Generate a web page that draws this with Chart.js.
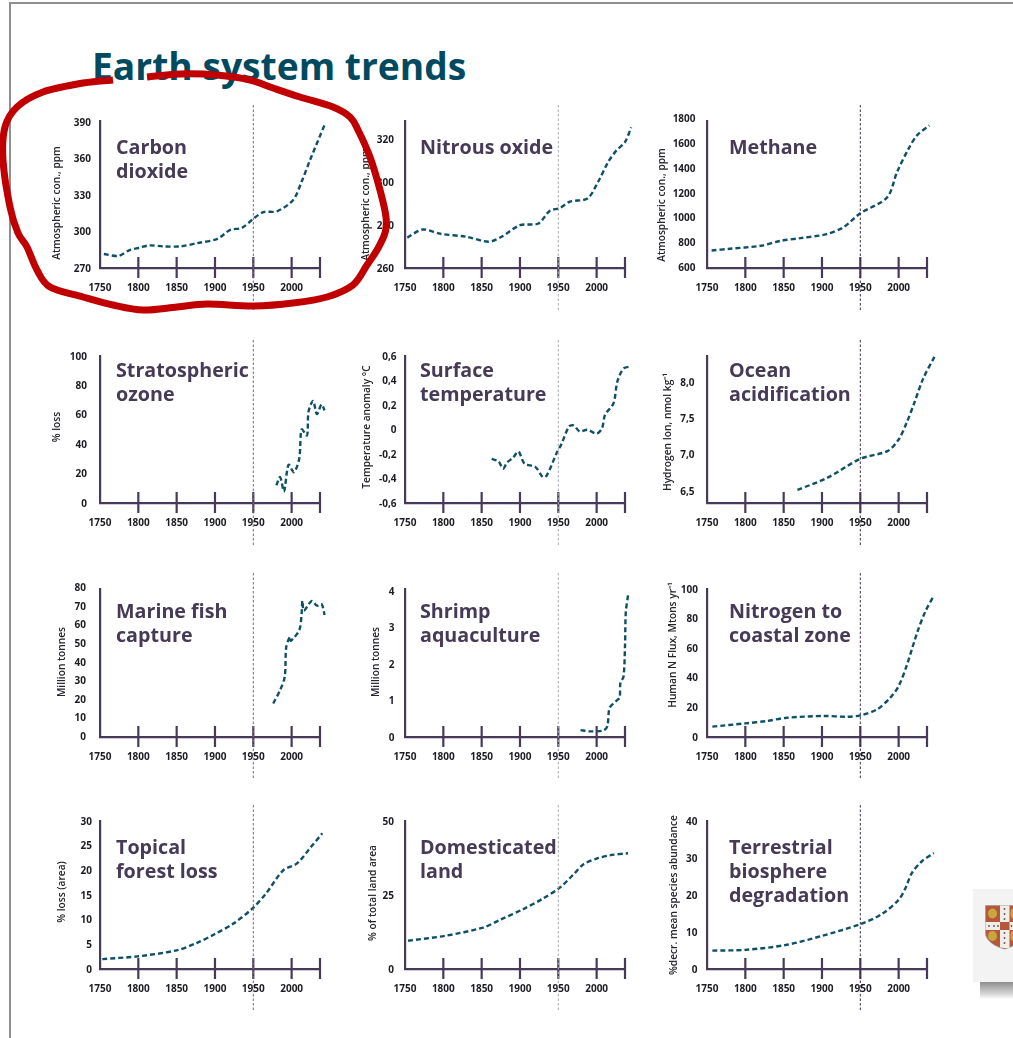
<!DOCTYPE html>
<html>
<head>
<meta charset="utf-8">
<title>Earth system trends</title>
<script src="https://cdn.jsdelivr.net/npm/chart.js@4"></script>
<style>
html,body{margin:0;padding:0;background:#fff;width:1013px;height:1038px;overflow:hidden;position:relative;font-family:"Open Sans",sans-serif}
#frame{position:absolute;left:9px;top:2px;width:1010px;height:1050px;border-left:2px solid #8f8f8f;border-top:2px solid #8f8f8f;box-sizing:border-box}
h1{position:absolute;left:92px;top:41px;margin:0;font:700 37.2px/50px "Open Sans",sans-serif;color:#004a5f;white-space:nowrap}
canvas{position:absolute}
#logo{position:absolute;left:973px;top:889px;width:40px;height:93px;background:#f3f3f3}
#logoShadow{position:absolute;left:980px;top:982px;width:33px;height:17px;background:linear-gradient(#8e8e8e,#dcdcdc 75%,#fff)}
#crest{position:absolute;left:985px;top:905px}
#ink{position:absolute;left:0;top:0;pointer-events:none}
</style>
</head>
<body>
<div id="frame"></div>
<h1>Earth system trends</h1>
<div id="panels"></div>
<div id="logo"></div><div id="logoShadow"></div>
<svg id="crest" width="28" height="45" viewBox="0 0 28 45">
  <path d="M0.5 0.5H39V28C39 36 28 42 19.5 44C11 42 0.5 36 0.5 28Z" fill="#b5573c" stroke="#9a9a9a" stroke-width="0.7"/>
  <path d="M15 0.5H24.5V43H19.5L15 42.5Z" fill="#f1eeea"/>
  <rect x="0.5" y="17" width="27.5" height="8" fill="#f1eeea"/>
  <rect x="15" y="17" width="9.5" height="8" fill="#b5573c"/>
  <g fill="#c9a63c"><ellipse cx="7.5" cy="8.5" rx="4.5" ry="5"/><ellipse cx="7.5" cy="31" rx="4.5" ry="5"/><ellipse cx="28" cy="8.5" rx="2.5" ry="5"/><ellipse cx="28" cy="31" rx="2.5" ry="5"/></g>
  <g fill="#555"><circle cx="19.5" cy="4" r=".9"/><circle cx="19.5" cy="9" r=".9"/><circle cx="19.5" cy="14" r=".9"/><circle cx="19.5" cy="28" r=".9"/><circle cx="19.5" cy="33" r=".9"/><circle cx="19.5" cy="38" r=".9"/><circle cx="4" cy="21" r=".9"/><circle cx="9" cy="21" r=".9"/><circle cx="13" cy="21" r=".9"/><circle cx="26.5" cy="21" r=".9"/></g>
</svg>
<svg id="ink" width="1013" height="1038"><path id="inkPath" fill="none" stroke="#c00000" stroke-width="7" stroke-linecap="butt" stroke-linejoin="round"/></svg>

<script>
// ---- shared axis values ----
const xTickValues = [1750, 1800, 1850, 1900, 1950, 2000, 2037];
const xUnlabelledTick = 2037;
const markerYear = 1950;

// ---- series ----
const co2Years = [1755,1774,1788,1803,1814,1833,1855,1877,1903,1920,1935,1950,1963,1981,2002,2013,2024,2044];
const co2Values = [281.5,280,284.5,287,288.6,287.8,287.8,290.5,294,301.4,303,310.5,316,316.7,326,341,358.8,389.4];
const n2oYears = [1753,1773,1796,1830,1859,1876,1900,1924,1939,1952,1965,1988,2002,2015,2026,2037,2045];
const n2oValues = [274.2,278,276,274.6,272.3,274.6,280,280.8,286.8,288,291,292.5,300.3,309.5,315,318.8,325.7];
const ch4Years = [1756,1780,1820,1846,1872,1906,1928,1950,1985,1998,2013,2024,2040];
const ch4Values = [734,748,772,812,834,866,922,1035,1164,1370,1558,1666,1746];
const ozoneYears = [1980,1985,1990,1996,2003,2010,2013,2020,2022,2028,2033,2039,2043];
const ozoneValues = [12,17.6,7.9,26,21,30.5,50,46,62,69.5,60.5,67,63];
const tempYears = [1863,1872,1878,1883,1891,1898,1906,1920,1930,1935,1948,1954,1964,1970,1978,1988,2000,2007,2011,2022,2027,2035,2045];
const tempValues = [-0.24,-0.26,-0.32,-0.27,-0.23,-0.18,-0.28,-0.305,-0.39,-0.375,-0.19,-0.12,0.025,0.033,-0.016,-0.002,-0.034,0.01,0.12,0.214,0.39,0.497,0.516];
const oceanYears = [1868,1906,1950,1986,2000,2011,2020,2032,2047];
const oceanValues = [6.52,6.68,6.945,7.055,7.21,7.455,7.7,8.045,8.35];
const fishYears = [1976,1985,1991,1993,1998,1999,2010,2013,2014,2016,2026,2033,2039,2043];
const fishValues = [17.6,24.8,32,48.2,53.6,51.4,57.2,66,73,67.6,72.8,70.3,71.2,65.3];
const shrimpYears = [1979,1991,2009,2014,2017,2026,2030,2031,2035,2037,2038,2041];
const shrimpValues = [0.19,0.155,0.18,0.3,0.8,1.0,1.08,1.49,1.65,2.49,3.41,3.89];
const nitrogenYears = [1757,1800,1828,1854,1902,1933,1952,1972,1989,2000,2011,2024,2035,2046];
const nitrogenValues = [7,9.2,10.8,13,14.2,13.7,14.8,18.7,26.5,34.4,49,70.3,85,95.5];
const forestYears = [1753,1799,1850,1876,1900,1924,1949,1967,1989,2007,2024,2040];
const forestValues = [2,2.56,3.78,5.26,7.1,9.2,12.3,15.4,20,21.4,24.5,27.5];
const landYears = [1754,1802,1852,1874,1904,1930,1952,1970,1983,2000,2017,2041];
const landValues = [9.55,11.2,14,16.6,20.2,23.8,27.5,32,35.4,37.3,38.4,39.1];
const biosphereYears = [1757,1800,1852,1900,1950,1978,2000,2009,2017,2030,2046];
const biosphereValues = [5,5.2,6.5,9,12.2,14.9,18.8,22,26,29.2,31.5];

// ---- y tick values and labels ----
const co2Ticks = [270,300,330,360,390];
const co2TickLabels = ['270','300','330','360','390'];
const n2oTicks = [260,280,300,320];
const n2oTickLabels = ['260','280','300','320'];
const ch4Ticks = [600,800,1000,1200,1400,1600,1800];
const ch4TickLabels = ['600','800','1000','1200','1400','1600','1800'];
const ozoneTicks = [0,20,40,60,80,100];
const ozoneTickLabels = ['0','20','40','60','80','100'];
const tempTicks = [-0.6,-0.4,-0.2,0,0.2,0.4,0.6];
const tempTickLabels = ['-0,6','-0,4','-0,2','0','0,2','0,4','0,6'];
const oceanTicks = [6.5,7,7.5,8];
const oceanTickLabels = ['6,5','7,0','7,5','8,0'];
const fishTicks = [0,10,20,30,40,50,60,70,80];
const fishTickLabels = ['0','10','20','30','40','50','60','70','80'];
const shrimpTicks = [0,1,2,3,4];
const shrimpTickLabels = ['0','1','2','3','4'];
const nitrogenTicks = [0,20,40,60,80,100];
const nitrogenTickLabels = ['0','20','40','60','80','100'];
const forestTicks = [0,5,10,15,20,25,30];
const forestTickLabels = ['0','5','10','15','20','25','30'];
const landTicks = [0,25,50];
const landTickLabels = ['0','25','50'];
const biosphereTicks = [0,10,20,30,40];
const biosphereTickLabels = ['0','10','20','30','40'];

// ---- layout (page pixels) ----
const colAxisX = [100, 405, 707];
const colTitleX = [116, 420, 729];
const colMarkerColor = ['#6f6a7c', '#a9a9ad', '#3d2c52'];
const rows = [
  {top:121, bottom:268, baseline:154, dashTop:105, dashBottom:312},
  {top:356, bottom:503, baseline:377, dashTop:340, dashBottom:545},
  {top:589, bottom:737, baseline:618, dashTop:573, dashBottom:780},
  {top:821, bottom:969, baseline:854, dashTop:805, dashBottom:1012}
];
const plotWidth = 220, yAxisWidth = 60, padTop = 25, xAxisHeight = 50, padRight = 30;
const axisColor = '#47395a', lineColor = '#0f5066', tickTextColor = '#1c1c22', titleColor = '#463a56';

const panels = [
  {c:0,r:0,title:['Carbon','dioxide'],yTitle:'Atmospheric con., ppm',years:co2Years,values:co2Values,ticks:co2Ticks,labels:co2TickLabels,min:270,max:391,gap:9,tx:57,ty:203},
  {c:1,r:0,title:['Nitrous oxide'],yTitle:'Atmospheric con., ppm',years:n2oYears,values:n2oValues,ticks:n2oTicks,labels:n2oTickLabels,min:260,max:328.7,gap:11,tx:366,ty:204},
  {c:2,r:0,title:['Methane'],yTitle:'Atmospheric con., ppm',years:ch4Years,values:ch4Values,ticks:ch4Ticks,labels:ch4TickLabels,min:592,max:1782,gap:11.5,tx:662,ty:205},
  {c:0,r:1,title:['Stratospheric','ozone'],yTitle:'% loss',years:ozoneYears,values:ozoneValues,ticks:ozoneTicks,labels:ozoneTickLabels,min:0,max:100,gap:13,tx:57,ty:427},
  {c:1,r:1,title:['Surface','temperature'],yTitle:'Temperature anomaly °C',years:tempYears,values:tempValues,ticks:tempTicks,labels:tempTickLabels,min:-0.6,max:0.6,gap:8.5,tx:367,ty:427},
  {c:2,r:1,title:['Ocean','acidification'],yTitle:'Hydrogen Ion, nmol kg⁻¹',years:oceanYears,values:oceanValues,ticks:oceanTicks,labels:oceanTickLabels,min:6.34,max:8.355,gap:12.5,tx:668,ty:432},
  {c:0,r:2,title:['Marine fish','capture'],yTitle:'Million tonnes',years:fishYears,values:fishValues,ticks:fishTicks,labels:fishTickLabels,min:-0.5,max:79.3,gap:14,tx:62,ty:662},
  {c:1,r:2,title:['Shrimp','aquaculture'],yTitle:'Million tonnes',years:shrimpYears,values:shrimpValues,ticks:shrimpTicks,labels:shrimpTickLabels,min:0,max:4.06,gap:10.5,tx:376,ty:662},
  {c:2,r:2,title:['Nitrogen to','coastal zone'],yTitle:'Human N Flux, Mtons yr⁻¹',years:nitrogenYears,values:nitrogenValues,ticks:nitrogenTicks,labels:nitrogenTickLabels,min:0,max:100,gap:9,tx:673,ty:645},
  {c:0,r:3,title:['Topical','forest loss'],yTitle:'% loss (area)',years:forestYears,values:forestValues,ticks:forestTicks,labels:forestTickLabels,min:0,max:30,gap:8,tx:62,ty:892},
  {c:1,r:3,title:['Domesticated','land'],yTitle:'% of total land area',years:landYears,values:landValues,ticks:landTicks,labels:landTickLabels,min:0,max:50,gap:11,tx:373,ty:893},
  {c:2,r:3,title:['Terrestrial','biosphere','degradation'],yTitle:'%decr. mean species abundance',years:biosphereYears,values:biosphereValues,ticks:biosphereTicks,labels:biosphereTickLabels,min:0,max:40.2,gap:9.5,tx:674,ty:895}
];

// Tick marks crossing the x axis, the 1950 marker, the panel heading and the y axis label.
const panelDecor = {
  id:'panelDecor',
  afterDraw(chart, args, o){
    const {ctx, chartArea:a, scales:{x}} = chart;
    ctx.save();
    ctx.strokeStyle = axisColor; ctx.lineWidth = 2.2;
    xTickValues.slice(1).forEach(v=>{
      const px = x.getPixelForValue(v);
      ctx.beginPath(); ctx.moveTo(px,a.bottom-11); ctx.lineTo(px,a.bottom+10); ctx.stroke();
    });
    const mx = x.getPixelForValue(markerYear);
    ctx.strokeStyle = o.markerColor; ctx.lineWidth = 1; ctx.setLineDash([2.5,2]);
    ctx.beginPath(); ctx.moveTo(mx,o.dashTop-o.pageTop); ctx.lineTo(mx,o.dashBottom-o.pageTop); ctx.stroke();
    ctx.setLineDash([]);
    ctx.fillStyle = titleColor; ctx.textAlign='left'; ctx.textBaseline='alphabetic';
    ctx.font = '700 19.7px "Open Sans"';
    o.title.forEach((t,i)=>ctx.fillText(t,o.titleX-o.pageLeft,o.baseline-o.pageTop+i*24));
    ctx.translate(o.tx-o.pageLeft,o.ty-o.pageTop); ctx.rotate(-Math.PI/2);
    ctx.fillStyle = '#26262c'; ctx.textAlign='center'; ctx.textBaseline='middle';
    ctx.font = '600 10.2px "Open Sans"';
    ctx.fillText(o.yTitle,0,0);
    ctx.restore();
  }
};

const host = document.getElementById('panels');
panels.forEach(p=>{
  const row = rows[p.r];
  const left = colAxisX[p.c]-yAxisWidth, top = row.top-padTop;
  const cv = document.createElement('canvas');
  const w = yAxisWidth+plotWidth+padRight, h = padTop+(row.bottom-row.top)+xAxisHeight;
  cv.width=w; cv.height=h;
  cv.style.cssText=`left:${left}px;top:${top}px;width:${w}px;height:${h}px`;
  host.appendChild(cv);
  new Chart(cv,{
    type:'line',
    data:{datasets:[{
      data:p.years.map((x,i)=>({x,y:p.values[i]})),
      borderColor:lineColor,borderWidth:2.4,borderDash:[5,3],
      pointRadius:0,tension:0.3,clip:false,fill:false
    }]},
    plugins:[panelDecor],
    options:{
      responsive:false,animation:false,devicePixelRatio:1,
      layout:{padding:{top:padTop,right:padRight,left:0,bottom:0}},
      plugins:{legend:{display:false},tooltip:{enabled:false},title:{display:false},
        panelDecor:{title:p.title,yTitle:p.yTitle,tx:p.tx,ty:p.ty,titleX:colTitleX[p.c],baseline:row.baseline,
          pageLeft:left,pageTop:top,dashTop:row.dashTop,dashBottom:row.dashBottom,markerColor:colMarkerColor[p.c]}},
      scales:{
        x:{type:'linear',
          // Bounds set here rather than as options.min/max, so points past the last tick are still drawn.
          afterBuildTicks:s=>{s.ticks=xTickValues.map(value=>({value}));s.min=xTickValues[0];s.max=xTickValues[xTickValues.length-1];},
          afterFit:s=>{s.height=xAxisHeight;},
          grid:{display:false,drawTicks:false},
          border:{display:true,color:axisColor,width:2.2},
          ticks:{autoSkip:false,maxRotation:0,minRotation:0,padding:14,color:tickTextColor,
            font:{family:'"Open Sans"',size:10,weight:'700'},
            callback:v=>v===xUnlabelledTick?'':String(v)}},
        y:{type:'linear',min:p.min,max:p.max,
          afterBuildTicks:s=>{s.ticks=p.ticks.map(value=>({value}));},
          afterFit:s=>{s.width=yAxisWidth;},
          grid:{display:false,drawTicks:false},
          border:{display:true,color:axisColor,width:2.2},
          ticks:{autoSkip:false,padding:p.gap,labelOffset:0.8,color:tickTextColor,
            font:{family:'"Open Sans"',size:10,weight:'700'},
            callback:(v,i)=>p.labels[i]}}
      }
    }
  });
});

// ---- hand-drawn red annotation round the first panel ----
const inkPoints = [[113,80],[83,83],[43,92],[17,107],[5,127],[3,160],[10,207],[18,233],[27,247],[37,270],[50,287],[83,297],[113,305],[143,310],[177,307],[207,304],[253,306],[293,303],[327,297],[353,285],[367,265],[377,250],[385,233],[386,217],[380,190],[370,157],[358,130],[350,117],[333,107],[300,97],[273,88],[250,80],[217,75],[180,74],[147,77]];
let d = `M${inkPoints[0][0]} ${inkPoints[0][1]}`;
for(let i=0;i<inkPoints.length-1;i++){
  const p0=inkPoints[Math.max(i-1,0)],p1=inkPoints[i],p2=inkPoints[i+1],p3=inkPoints[Math.min(i+2,inkPoints.length-1)];
  d+=` C${p1[0]+(p2[0]-p0[0])/6} ${p1[1]+(p2[1]-p0[1])/6} ${p2[0]-(p3[0]-p1[0])/6} ${p2[1]-(p3[1]-p1[1])/6} ${p2[0]} ${p2[1]}`;
}
document.getElementById('inkPath').setAttribute('d',d);
</script>
</body>
</html>
